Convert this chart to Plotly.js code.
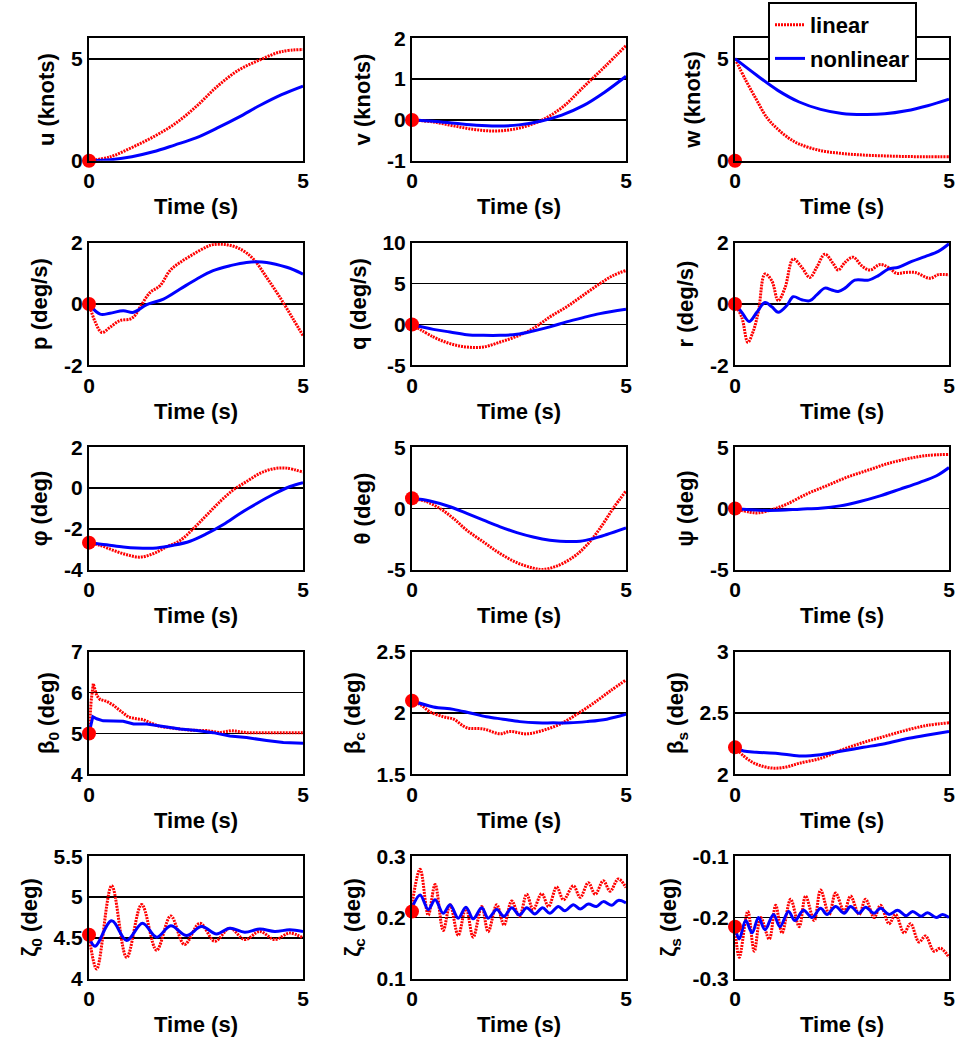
<!DOCTYPE html>
<html><head><meta charset="utf-8">
<script src="https://cdn.plot.ly/plotly-3.0.1.min.js"></script>
<style>body{margin:0;background:#fff}#chart{width:959px;height:1044px}</style>
</head><body><div id="chart"></div>
<script>
// ---------- labels / axes ----------
const seriesNames = ['linear', 'nonlinear'];
const xTitle = 'Time (s)';
const xTickVals = [0, 5];
const xTickText = ['0', '5'];
const xRange = [0, 5];
const yTitles = ['u (knots)', 'v (knots)', 'w (knots)',
  'p (deg/s)', 'q (deg/s)', 'r (deg/s)',
  'φ (deg)', 'θ (deg)', 'ψ (deg)',
  'β<sub>0</sub> (deg)', 'β<sub>c</sub> (deg)', 'β<sub>s</sub> (deg)',
  'ζ<sub>0</sub> (deg)', 'ζ<sub>c</sub> (deg)', 'ζ<sub>s</sub> (deg)'];
const yRanges = [[0,6],[-1,2],[0,6],[-2,2],[-5,10],[-2,2],[-4,2],[-5,5],[-5,5],[4,7],[1.5,2.5],[2,3],[4,5.5],[0.1,0.3],[-0.3,-0.1]];
const yTickVals = [[0,5],[-1,0,1,2],[0,5],[-2,0,2],[-5,0,5,10],[-2,0,2],[-4,-2,0,2],[-5,0,5],[-5,0,5],[4,5,6,7],[1.5,2,2.5],[2,2.5,3],[4,4.5,5,5.5],[0.1,0.2,0.3],[-0.3,-0.2,-0.1]];
const yTickText = [['0','5'],['-1','0','1','2'],['0','5'],['-2','0','2'],['-5','0','5','10'],['-2','0','2'],['-4','-2','0','2'],['-5','0','5'],['-5','0','5'],['4','5','6','7'],['1.5','2','2.5'],['2','2.5','3'],['4','4.5','5','5.5'],['0.1','0.2','0.3'],['-0.3','-0.2','-0.1']];
// initial values (red dots)
const initVals = [0, 0, 0, 0, 0, 0, -2.67, 0.84, 0, 5.0, 2.1, 2.22, 4.54, 0.21, -0.215];

// ---------- series ----------
const t_u_lin = [0,0.5,1,1.5,2,2.5,3,3.5,4,4.5,5];
const u_lin   = [0,0.2,0.65,1.17,1.8,2.65,3.65,4.45,4.95,5.35,5.45];
const t_u_non = [0,0.5,1,1.5,2,2.5,3,3.5,4,4.5,5];
const u_non   = [0,0.05,0.2,0.44,0.77,1.12,1.61,2.14,2.72,3.24,3.66];

const t_v_lin = [0,0.5,1,1.5,2,2.5,3,3.5,4,4.5,5];
const v_lin   = [0,-0.05,-0.15,-0.24,-0.27,-0.2,-0.02,0.3,0.8,1.3,1.82];
const t_v_non = [0,0.5,1,1.5,2,2.5,3,3.5,4,4.5,5];
const v_non   = [0,-0.03,-0.08,-0.13,-0.15,-0.12,-0.03,0.12,0.35,0.68,1.07];

const t_w_lin = [0,0.25,0.5,0.75,1,1.25,1.5,2,2.5,3,3.5,4,4.5,5];
const w_lin   = [5,3.95,3.0,2.1,1.55,1.12,0.82,0.5,0.36,0.28,0.24,0.21,0.2,0.2];
const t_w_non = [0,0.5,1,1.5,2,2.5,3,3.5,4,4.5,5];
const w_non   = [5,4.2,3.45,2.88,2.52,2.32,2.27,2.3,2.45,2.7,3.02];

const t_p_lin = [0,0.15,0.3,0.49,0.72,0.96,1.07,1.19,1.43,1.66,1.89,2.13,2.44,2.75,2.9,3.2,3.53,3.84,4.15,4.46,4.77,5];
const p_lin   = [0,-0.6,-0.93,-0.76,-0.54,-0.49,-0.38,-0.11,0.38,0.6,1.09,1.36,1.63,1.87,1.94,1.94,1.8,1.47,0.87,0.22,-0.49,-1.03];
const t_p_non = [0,0.26,0.49,0.8,1.04,1.35,1.74,2.13,2.52,2.9,3.29,3.68,4.15,4.62,5];
const p_non   = [0,-0.33,-0.3,-0.22,-0.27,-0.02,0.16,0.49,0.82,1.09,1.25,1.36,1.36,1.2,0.98];

const t_q_lin = [0,0.5,0.89,1.28,1.67,2.06,2.45,2.83,3.22,3.61,4.0,4.39,4.7,5];
const q_lin   = [0,-1.53,-2.35,-2.76,-2.76,-2.15,-1.45,-0.5,0.92,2.15,3.58,5.0,6.0,6.6];
const t_q_non = [0,0.5,0.89,1.28,1.67,2.06,2.45,2.83,3.22,3.61,4.0,4.39,5];
const q_non   = [0,-0.6,-0.92,-1.25,-1.33,-1.33,-1.2,-0.8,-0.3,0.31,0.84,1.33,1.87];

const t_r_lin = [0,0.16,0.3,0.43,0.55,0.7,0.86,1.01,1.17,1.36,1.56,1.75,1.91,2.1,2.3,2.41,2.57,2.76,2.96,3.15,3.39,3.58,3.78,3.97,4.21,4.56,4.75,5];
const r_lin   = [0,-0.44,-1.25,-0.87,-0.22,0.98,0.76,0.11,0.54,1.47,1.2,0.87,1.2,1.63,1.31,1.11,1.36,1.53,1.25,1.11,1.29,1.2,1.0,1.03,1.03,0.84,0.96,0.95];
const t_r_non = [0,0.16,0.33,0.51,0.7,0.86,1.01,1.21,1.36,1.56,1.75,1.91,2.1,2.26,2.41,2.57,2.8,3.12,3.35,3.58,3.82,4.13,4.44,4.75,5];
const r_non   = [0,-0.27,-0.57,-0.27,0.05,-0.09,-0.27,-0.05,0.24,0.14,0.11,0.3,0.52,0.46,0.41,0.52,0.78,0.78,0.93,1.14,1.2,1.39,1.55,1.72,1.97];

const t_phi_lin = [0,0.26,0.57,0.88,1.19,1.5,1.81,2.13,2.44,2.75,3.06,3.37,3.68,4.0,4.31,4.62,5];
const phi_lin   = [-2.67,-2.8,-3.05,-3.26,-3.38,-3.21,-2.88,-2.56,-1.98,-1.32,-0.66,-0.09,0.32,0.73,0.95,0.98,0.78];
const t_phi_non = [0,0.41,0.8,1.11,1.58,1.97,2.36,2.75,3.14,3.53,3.92,4.31,4.7,5];
const phi_non   = [-2.67,-2.77,-2.88,-2.93,-2.93,-2.8,-2.6,-2.23,-1.78,-1.24,-0.75,-0.3,0.08,0.27];

const t_theta_lin = [0,0.34,0.65,0.97,1.28,1.67,2.06,2.45,2.83,3.07,3.38,3.77,4.08,4.39,4.7,5];
const theta_lin   = [0.84,0.56,0.01,-0.81,-1.77,-2.73,-3.68,-4.42,-4.86,-4.97,-4.7,-3.96,-3.0,-1.63,0.01,1.44];
const t_theta_non = [0,0.42,0.89,1.28,1.67,2.06,2.45,2.83,3.22,3.46,3.93,4.24,4.55,5];
const theta_non   = [0.84,0.62,0.15,-0.4,-0.95,-1.49,-1.96,-2.32,-2.59,-2.67,-2.67,-2.45,-2.12,-1.58];

const t_psi_lin = [0,0.35,0.55,0.9,1.21,1.67,2.14,2.61,3.08,3.54,4.01,4.48,5];
const psi_lin   = [0,-0.3,-0.35,-0.05,0.36,1.18,1.86,2.55,3.1,3.64,4.05,4.33,4.42];
const t_psi_non = [0,0.58,1.05,1.52,1.99,2.45,2.92,3.39,3.86,4.32,4.71,5];
const psi_non   = [0,-0.14,-0.14,-0.05,0.03,0.22,0.58,1.04,1.59,2.14,2.68,3.35];

const t_b0_lin = [0,0.05,0.1,0.18,0.26,0.41,0.57,0.72,0.92,1.11,1.27,1.43,1.66,1.97,2.36,2.75,3.06,3.33,3.68,4.2,5];
const b0_lin   = [5.0,5.8,6.22,5.93,5.83,5.79,5.69,5.56,5.4,5.36,5.34,5.26,5.17,5.13,5.08,5.07,5.02,5.07,5.02,5.02,5.02];
const t_b0_non = [0,0.09,0.18,0.33,0.8,1.04,1.35,1.74,2.13,2.52,2.9,3.29,3.68,4.15,4.54,5];
const b0_non   = [5.0,5.41,5.36,5.31,5.3,5.23,5.23,5.17,5.11,5.07,5.02,4.94,4.9,4.83,4.78,4.76];

const t_bc_lin = [0,0.19,0.42,0.73,0.97,1.28,1.67,2.06,2.29,2.68,3.07,3.46,3.85,4.24,4.63,5];
const bc_lin   = [2.09,2.07,2.01,1.97,1.95,1.88,1.87,1.83,1.85,1.83,1.86,1.91,1.99,2.08,2.18,2.27];
const t_bc_non = [0,0.5,0.97,1.36,1.74,2.13,2.52,2.91,3.3,3.69,4.08,4.55,5];
const bc_non   = [2.1,2.05,2.03,2.0,1.97,1.95,1.93,1.92,1.92,1.92,1.93,1.95,1.99];

const t_bs_lin = [0,0.2,0.4,0.6,0.9,1.2,1.5,2,2.5,3,3.5,4,4.5,5];
const bs_lin   = [2.22,2.15,2.1,2.07,2.05,2.06,2.09,2.13,2.2,2.26,2.31,2.36,2.4,2.42];
const t_bs_non = [0,0.2,0.5,1,1.5,2,2.5,3,3.5,4,4.5,5];
const bs_non   = [2.22,2.19,2.18,2.17,2.15,2.16,2.19,2.22,2.25,2.29,2.32,2.35];

const t_z0_lin = [0,0.18,0.53,0.88,1.23,1.58,1.91,2.23,2.59,2.94,3.29,3.64,3.99,4.34,4.69,5];
const z0_lin   = [4.53,4.12,5.14,4.26,4.91,4.35,4.77,4.42,4.68,4.46,4.62,4.48,4.58,4.48,4.56,4.5];
const t_z0_non = [0,0.14,0.53,0.88,1.25,1.58,1.91,2.28,2.63,2.98,3.29,3.64,3.99,4.34,4.69,5];
const z0_non   = [4.51,4.4,4.71,4.47,4.68,4.51,4.65,4.53,4.64,4.55,4.62,4.57,4.61,4.58,4.6,4.58];

const t_zc_lin = [0,0.19,0.38,0.54,0.73,0.89,1.08,1.26,1.43,1.63,1.78,1.98,2.15,2.33,2.51,2.68,2.83,3.03,3.19,3.38,3.54,3.77,3.93,4.12,4.28,4.47,4.63,4.82,5];
const zc_lin   = [0.221,0.279,0.204,0.254,0.179,0.221,0.171,0.216,0.168,0.218,0.177,0.221,0.188,0.227,0.202,0.238,0.213,0.239,0.218,0.25,0.229,0.252,0.233,0.257,0.238,0.26,0.243,0.263,0.249];
const t_zc_non = [0,0.19,0.38,0.54,0.73,0.89,1.08,1.26,1.43,1.63,1.78,1.98,2.15,2.33,2.51,2.68,2.87,3.05,3.22,3.42,3.57,3.77,3.93,4.12,4.31,4.47,4.67,4.82,5];
const zc_non   = [0.216,0.237,0.213,0.229,0.207,0.221,0.199,0.217,0.198,0.216,0.199,0.213,0.202,0.216,0.204,0.216,0.206,0.216,0.207,0.218,0.211,0.221,0.214,0.222,0.218,0.226,0.22,0.228,0.224];

const t_zs_lin = [0,0.1,0.3,0.45,0.6,0.8,0.95,1.1,1.3,1.5,1.65,1.85,2.0,2.2,2.35,2.55,2.7,2.9,3.05,3.25,3.4,3.6,3.75,3.95,4.1,4.3,4.45,4.65,4.8,5];
const zs_lin   = [-0.215,-0.265,-0.19,-0.255,-0.2,-0.235,-0.18,-0.225,-0.17,-0.215,-0.165,-0.205,-0.155,-0.195,-0.16,-0.19,-0.165,-0.195,-0.17,-0.2,-0.18,-0.21,-0.195,-0.225,-0.21,-0.24,-0.23,-0.255,-0.25,-0.265];
const t_zs_non = [0,0.1,0.25,0.4,0.55,0.7,0.9,1.05,1.25,1.4,1.6,1.8,2.0,2.15,2.35,2.55,2.7,2.9,3.05,3.25,3.4,3.6,3.8,4.0,4.15,4.35,4.5,4.7,4.85,5];
const zs_non   = [-0.215,-0.235,-0.205,-0.225,-0.2,-0.22,-0.195,-0.215,-0.19,-0.205,-0.188,-0.2,-0.185,-0.195,-0.182,-0.193,-0.182,-0.193,-0.183,-0.193,-0.185,-0.195,-0.188,-0.197,-0.19,-0.198,-0.192,-0.2,-0.195,-0.2];

const linT = [t_u_lin,t_v_lin,t_w_lin,t_p_lin,t_q_lin,t_r_lin,t_phi_lin,t_theta_lin,t_psi_lin,t_b0_lin,t_bc_lin,t_bs_lin,t_z0_lin,t_zc_lin,t_zs_lin];
const linY = [u_lin,v_lin,w_lin,p_lin,q_lin,r_lin,phi_lin,theta_lin,psi_lin,b0_lin,bc_lin,bs_lin,z0_lin,zc_lin,zs_lin];
const nonT = [t_u_non,t_v_non,t_w_non,t_p_non,t_q_non,t_r_non,t_phi_non,t_theta_non,t_psi_non,t_b0_non,t_bc_non,t_bs_non,t_z0_non,t_zc_non,t_zs_non];
const nonY = [u_non,v_non,w_non,p_non,q_non,r_non,phi_non,theta_non,psi_non,b0_non,bc_non,bs_non,z0_non,zc_non,zs_non];

// ---------- layout geometry (pixels) ----------
const W = 959, H = 1044;
const colLeft = [89, 412, 735], plotW = 214;
const rowTop = [38.3, 242.8, 447.3, 651.8, 856.3], plotH = 122.5;
const FONT = 'Arial, "Liberation Sans", sans-serif';
const tickFont = {family: FONT, size: 21, color: '#000', weight: 'bold'};
const titleFont = {family: FONT, size: 22, color: '#000', weight: 'bold'};

const traces = [];
const layout = {
  width: W, height: H, autosize: false,
  margin: {l: 0, r: 0, t: 0, b: 0},
  paper_bgcolor: '#fff', plot_bgcolor: '#fff',
  showlegend: true,
  legend: {x: 768 / W, y: 1 - 2 / H, xanchor: 'left', yanchor: 'top',
    bgcolor: '#fff', bordercolor: '#000', borderwidth: 2,
    traceorder: 'grouped', tracegroupgap: 2,
    font: {family: FONT, size: 22, color: '#000', weight: 'bold'}}
};

for (let i = 0; i < 15; i++) {
  const r = Math.floor(i / 3), c = i % 3;
  const n = i + 1;
  const xa = n === 1 ? 'x' : 'x' + n, ya = n === 1 ? 'y' : 'y' + n;
  const xk = n === 1 ? 'xaxis' : 'xaxis' + n, yk = n === 1 ? 'yaxis' : 'yaxis' + n;
  const smooth = (i === 9) ? 'linear' : 'spline';
  traces.push({x: linT[i], y: linY[i], xaxis: xa, yaxis: ya, type: 'scatter', mode: 'lines',
    name: seriesNames[0], legendgroup: 'lin', showlegend: i === 0,
    line: {color: 'rgb(255,0,0)', width: 3, dash: '2px,1px', shape: smooth}});
  traces.push({x: nonT[i], y: nonY[i], xaxis: xa, yaxis: ya, type: 'scatter', mode: 'lines',
    name: seriesNames[1], legendgroup: 'non', showlegend: i === 0,
    line: {color: 'rgb(0,0,255)', width: 3, shape: smooth}});
  traces.push({x: [xRange[0]], y: [initVals[i]], xaxis: xa, yaxis: ya, type: 'scatter', mode: 'markers',
    showlegend: false, cliponaxis: false, hoverinfo: 'skip',
    marker: {color: 'rgb(255,0,0)', size: 14}});
  layout[xk] = {
    domain: [colLeft[c] / W, (colLeft[c] + plotW) / W], anchor: ya,
    range: xRange, tickmode: 'array', tickvals: xTickVals, ticktext: xTickText,
    showgrid: false, zeroline: false, showline: true, mirror: true,
    linecolor: '#000', linewidth: 2, ticks: '', tickfont: tickFont, automargin: false,
    title: {text: xTitle, font: titleFont, standoff: 8}, fixedrange: true
  };
  layout[yk] = {
    domain: [1 - (rowTop[r] + plotH) / H, 1 - rowTop[r] / H], anchor: xa,
    range: yRanges[i], tickmode: 'array', tickvals: yTickVals[i], ticktext: yTickText[i],
    showgrid: true, gridcolor: '#000', gridwidth: 1.7, zeroline: false,
    showline: true, mirror: true, linecolor: '#000', linewidth: 2, ticks: '',
    tickfont: tickFont, automargin: false,
    title: {text: yTitles[i], font: titleFont, standoff: 10}, fixedrange: true
  };
}

Plotly.newPlot('chart', traces, layout, {displayModeBar: false, staticPlot: true});
</script>
</body></html>
